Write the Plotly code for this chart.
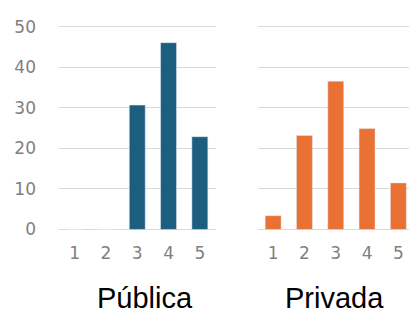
import plotly.graph_objects as go

categories = [1, 2, 3, 4, 5]
publica = [0, 0, 30.7, 46.1, 22.9]
privada = [3.4, 23.2, 36.6, 24.9, 11.5]
titles = ["Pública", "Privada"]
y_ticks = [0, 10, 20, 30, 40, 50]

W, H = 409, 316
fig = go.Figure()
fig.add_trace(go.Bar(x=categories, y=publica, marker_color="#1b5e7f", width=0.51,
                     xaxis="x", yaxis="y", showlegend=False))
fig.add_trace(go.Bar(x=categories, y=privada, marker_color="#e97133", width=0.51,
                     xaxis="x2", yaxis="y2", showlegend=False))

ydom = [1 - 236.5 / H, 1 - 17.5 / H]
tickfont = dict(family="DejaVu Sans", size=17, color="#808080")
grid = dict(showgrid=True, gridcolor="#d9d9d9", gridwidth=1, zeroline=False,
            range=[-1, 51], tickvals=y_ticks, domain=ydom, fixedrange=True)

fig.update_layout(
    width=W, height=H, margin=dict(l=0, r=0, t=0, b=0),
    paper_bgcolor="white", plot_bgcolor="white",
    xaxis=dict(domain=[59 / W, 215.5 / W], range=[0.5, 5.5], tickvals=categories,
               showgrid=False, zeroline=False, tickfont=tickfont, ticklabelstandoff=7,
               anchor="y"),
    xaxis2=dict(domain=[257.5 / W, 1.0], range=[0.5, 5.34], tickvals=categories,
                showgrid=False, zeroline=False, tickfont=tickfont, ticklabelstandoff=7,
                anchor="y2"),
    yaxis=dict(**grid, tickfont=tickfont, ticklabelstandoff=22, anchor="x"),
    yaxis2=dict(**grid, showticklabels=False, anchor="x2"),
    annotations=[
        dict(text=titles[0], x=145 / W, y=1 - 304 / H, xref="paper", yref="paper",
             showarrow=False, font=dict(family="Liberation Sans", size=29, color="#000000"),
             xanchor="center", yanchor="middle"),
        dict(text=titles[1], x=334 / W, y=1 - 304 / H, xref="paper", yref="paper",
             showarrow=False, font=dict(family="Liberation Sans", size=29, color="#000000"),
             xanchor="center", yanchor="middle"),
    ],
)
fig.write_html("out.html", config={"displayModeBar": False},
               post_script="document.body.style.margin='0px';document.body.style.overflow='hidden';")
